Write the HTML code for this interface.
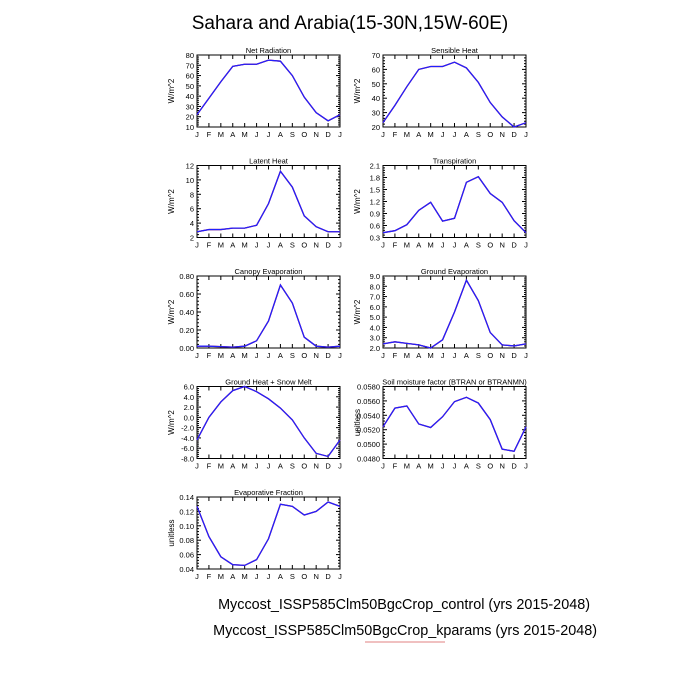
<!DOCTYPE html>
<html><head><meta charset="utf-8"><style>body{margin:0;background:#fff}svg{display:block}text{font-family:"Liberation Sans",sans-serif;fill:#000}</style></head>
<body><svg id="s" width="700" height="700" xmlns="http://www.w3.org/2000/svg">
<text x="350" y="29" font-size="19" text-anchor="middle">Sahara and Arabia(15-30N,15W-60E)</text>
<text x="590" y="609" font-size="14.4" text-anchor="end">Myccost_ISSP585Clm50BgcCrop_control (yrs 2015-2048)</text>
<text x="597" y="635" font-size="14.4" text-anchor="end">Myccost_ISSP585Clm50BgcCrop_kparams (yrs 2015-2048)</text>
<line x1="365" y1="642" x2="445" y2="642" stroke="#e08080" stroke-width="1"/>
</svg>
<script>
const P=[
["Net Radiation","W/m^2",0,0,10,80,10,0,[22,38,54,69,71,71,75,74,60,39,24,16,22]],
["Sensible Heat","W/m^2",1,0,20,70,10,0,[23,35,48,60,62,62,65,61,51,37,27,20,23]],
["Latent Heat","W/m^2",0,1,2,12,2,0,[2.8,3.1,3.1,3.3,3.3,3.7,6.7,11.2,9.0,5.0,3.5,2.8,2.8]],
["Transpiration","W/m^2",1,1,0.3,2.1,0.3,1,[0.42,0.47,0.62,0.98,1.18,0.71,0.78,1.68,1.82,1.4,1.18,0.72,0.42]],
["Canopy Evaporation","W/m^2",0,2,0,0.8,0.2,2,[0.02,0.02,0.015,0.01,0.02,0.08,0.3,0.7,0.5,0.12,0.02,0.01,0.02]],
["Ground Evaporation","W/m^2",1,2,2,9,1,1,[2.4,2.6,2.45,2.3,2.0,2.8,5.5,8.6,6.6,3.5,2.3,2.2,2.4]],
["Ground Heat + Snow Melt","W/m^2",0,3,-8,6,2,1,[-4.4,0,3,5.2,6,5,3.6,1.8,-0.5,-4,-7,-7.6,-4.4]],
["Soil moisture factor (BTRAN or BTRANMN)","unitless",1,3,0.048,0.058,0.002,4,[.0524,.0550,.0553,.0528,.0523,.0538,.0559,.0565,.0557,.0534,.0493,.0490,.0524]],
["Evaporative Fraction","unitless",0,4,0.04,0.14,0.02,2,[.127,.085,.057,.046,.045,.053,.082,.130,.127,.115,.120,.133,.127]]];
const M="JFMAMJJASONDJ";let h="";
for(const[t,u,c,r,lo,hi,st,d,v]of P){
const x0=c?383:197,x1=x0+143,y0=55+r*110.5,y1=y0+72,W=x1-x0,H=y1-y0;
const X=i=>x0+W*i/12,Y=q=>y1-H*(q-lo)/(hi-lo);
h+=`<rect x="${x0}" y="${y0}" width="${W}" height="${H}" fill="none" stroke="#000" stroke-width="1"/>`;
h+=`<text x="${(x0+x1)/2}" y="${y0-2}" font-size="7.5" text-anchor="middle">${t}</text>`;
h+=`<text transform="translate(${x0-23},${(y0+y1)/2}) rotate(-90)" font-size="8" text-anchor="middle">${u}</text>`;
const n=Math.round((hi-lo)/st);
for(let k=0;k<=n;k++){const q=lo+k*st,y=Y(q);
h+=`<line x1="${x0}" y1="${y}" x2="${x0+4}" y2="${y}" stroke="#000"/><line x1="${x1}" y1="${y}" x2="${x1-4}" y2="${y}" stroke="#000"/>`;
h+=`<text x="${x0-3}" y="${y+3}" font-size="7.5" text-anchor="end">${q.toFixed(d)}</text>`;
if(k<n)for(let m=1;m<5;m++){const ym=Y(q+st*m/5);h+=`<line x1="${x0}" y1="${ym}" x2="${x0+2}" y2="${ym}" stroke="#000"/><line x1="${x1}" y1="${ym}" x2="${x1-2}" y2="${ym}" stroke="#000"/>`;}}
for(let i=0;i<=12;i++){const x=X(i);h+=`<line x1="${x}" y1="${y1}" x2="${x}" y2="${y1-4}" stroke="#000"/><line x1="${x}" y1="${y0}" x2="${x}" y2="${y0+4}" stroke="#000"/><text x="${x}" y="${y1+10}" font-size="7.5" text-anchor="middle">${M[i]}</text>`;}
const pts=v.map((q,i)=>X(i)+","+Y(q)).join(" ");
h+=`<polyline points="${pts}" fill="none" stroke="#e00000" stroke-width="1.3"/><polyline points="${pts}" fill="none" stroke="#2020ff" stroke-width="1.3"/>`;}
document.getElementById("s").insertAdjacentHTML("beforeend",h);
</script></body></html>
